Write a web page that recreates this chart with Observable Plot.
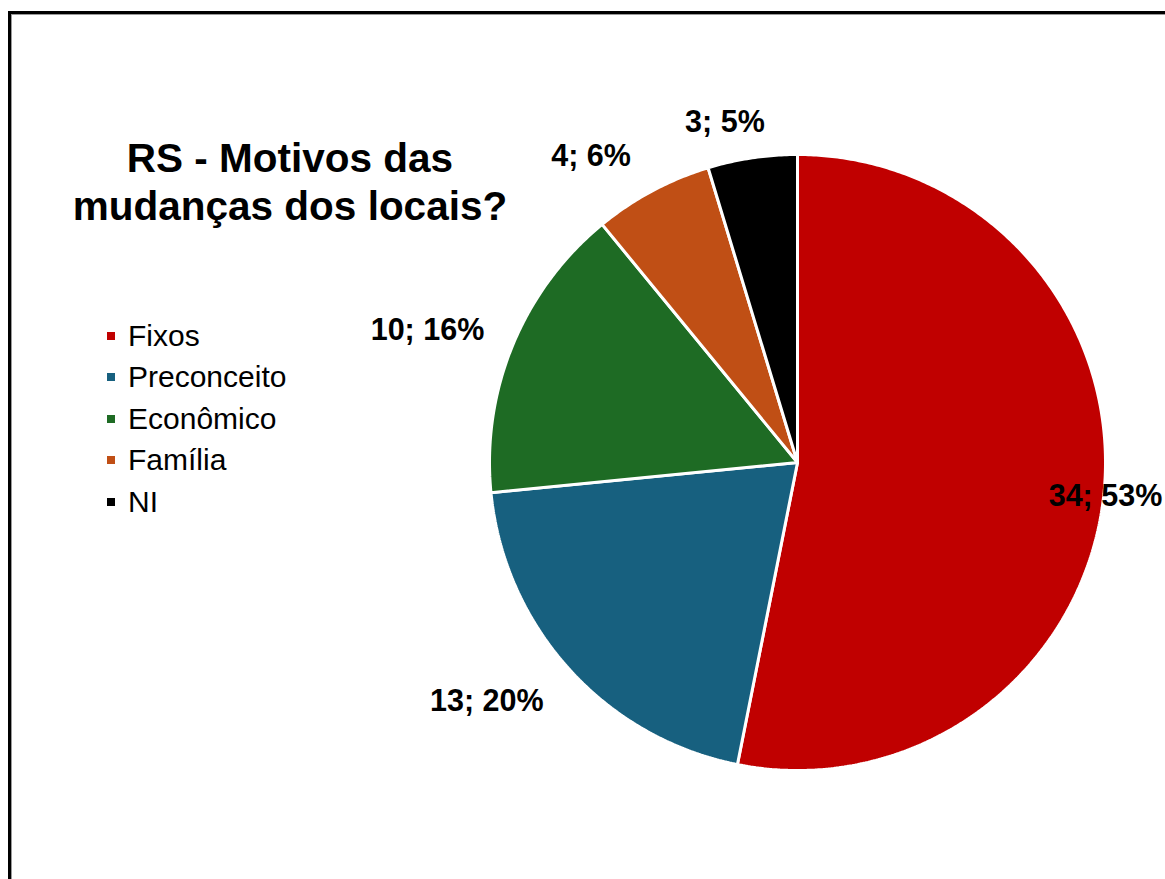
<!DOCTYPE html>
<html><head><meta charset="utf-8">
<script src="https://cdn.jsdelivr.net/npm/d3@7"></script>
<script src="https://cdn.jsdelivr.net/npm/@observablehq/plot@0.6"></script>
<style>
html,body{margin:0;padding:0;background:#fff;overflow:hidden;width:1165px;height:879px;font-family:"Liberation Sans",Arial,sans-serif;}
#frame{position:absolute;left:8px;top:11px;width:1220px;height:920px;border:3px solid #000;box-sizing:border-box;box-shadow:inset 1px 1px 0 #9a9a9a;}
#chart{position:absolute;left:0;top:0;}
#chart svg{background:transparent;}
#title{position:absolute;left:40px;width:500px;top:134px;text-align:center;font-weight:bold;font-size:40.5px;line-height:48px;color:#000;}
#legend{position:absolute;left:107px;top:315px;}
.row{display:flex;align-items:center;height:41.5px;font-size:30px;color:#000;}
.sw{width:8px;height:8px;margin-right:13px;flex:none;}
</style>
</head><body>
<div id="frame"></div>
<div id="chart"></div>
<div id="title">RS - Motivos das<br>mudanças dos locais?</div>
<div id="legend"></div>
<script>
// Data
const categories = ["Fixos", "Preconceito", "Econômico", "Família", "NI"];
const counts = [34, 13, 10, 4, 3];
const colors = ["#C00000", "#17607F", "#1E6B24", "#C04F15", "#000000"];

// Layout (label placement relative to slice middle)
const labelRadius = [1.006, 1.273, 1.276, 1.198, 1.13];
const labelAngleShift = [0.7, 4.6, -2.8, -5.9, -3.6];

const total = d3.sum(counts);
const data = categories.map((c, i) => ({cat: c, value: counts[i]}));
const arcs = d3.pie().sort(null).value(d => d.value)(data);

const pts = [];
arcs.forEach(a => {
  const c = a.data.cat;
  pts.push({cat: c, x: 0, y: 0});
  const n = Math.max(2, Math.ceil((a.endAngle - a.startAngle) / (Math.PI / 360)));
  for (let k = 0; k <= n; k++) {
    const t = a.startAngle + (a.endAngle - a.startAngle) * k / n;
    pts.push({cat: c, x: Math.sin(t), y: Math.cos(t)});
  }
  pts.push({cat: c, x: 0, y: 0});
});

const labels = arcs.map((a, i) => {
  const m = (a.startAngle + a.endAngle) / 2 + labelAngleShift[i] * Math.PI / 180;
  const r = labelRadius[i];
  return {
    x: r * Math.sin(m), y: r * Math.cos(m),
    text: `${a.data.value}; ${Math.round(a.data.value / total * 100)}%`
  };
});

const chart = Plot.plot({
  width: 1165, height: 879,
  marginTop: 0, marginRight: 0, marginBottom: 0, marginLeft: 0,
  x: {domain: [-1, 1], range: [489, 1105], axis: null},
  y: {domain: [-1, 1], range: [770, 154], axis: null},
  color: {domain: categories, range: colors},
  style: {background: "transparent", fontFamily: '"Liberation Sans", Arial, sans-serif'},
  marks: [
    Plot.line(pts, {x: "x", y: "y", z: "cat", fill: "cat", stroke: "white", strokeWidth: 3, strokeLinejoin: "miter", curve: "linear"}),
    Plot.text(labels, {x: "x", y: "y", text: "text", fontSize: 30.5, fontWeight: "bold", fill: "#000"})
  ]
});
document.getElementById("chart").appendChild(chart);

const legend = document.getElementById("legend");
categories.forEach((c, i) => {
  const row = document.createElement("div");
  row.className = "row";
  const sw = document.createElement("span");
  sw.className = "sw";
  sw.style.background = colors[i];
  const tx = document.createElement("span");
  tx.textContent = c;
  row.appendChild(sw); row.appendChild(tx);
  legend.appendChild(row);
});
</script>
</body></html>
